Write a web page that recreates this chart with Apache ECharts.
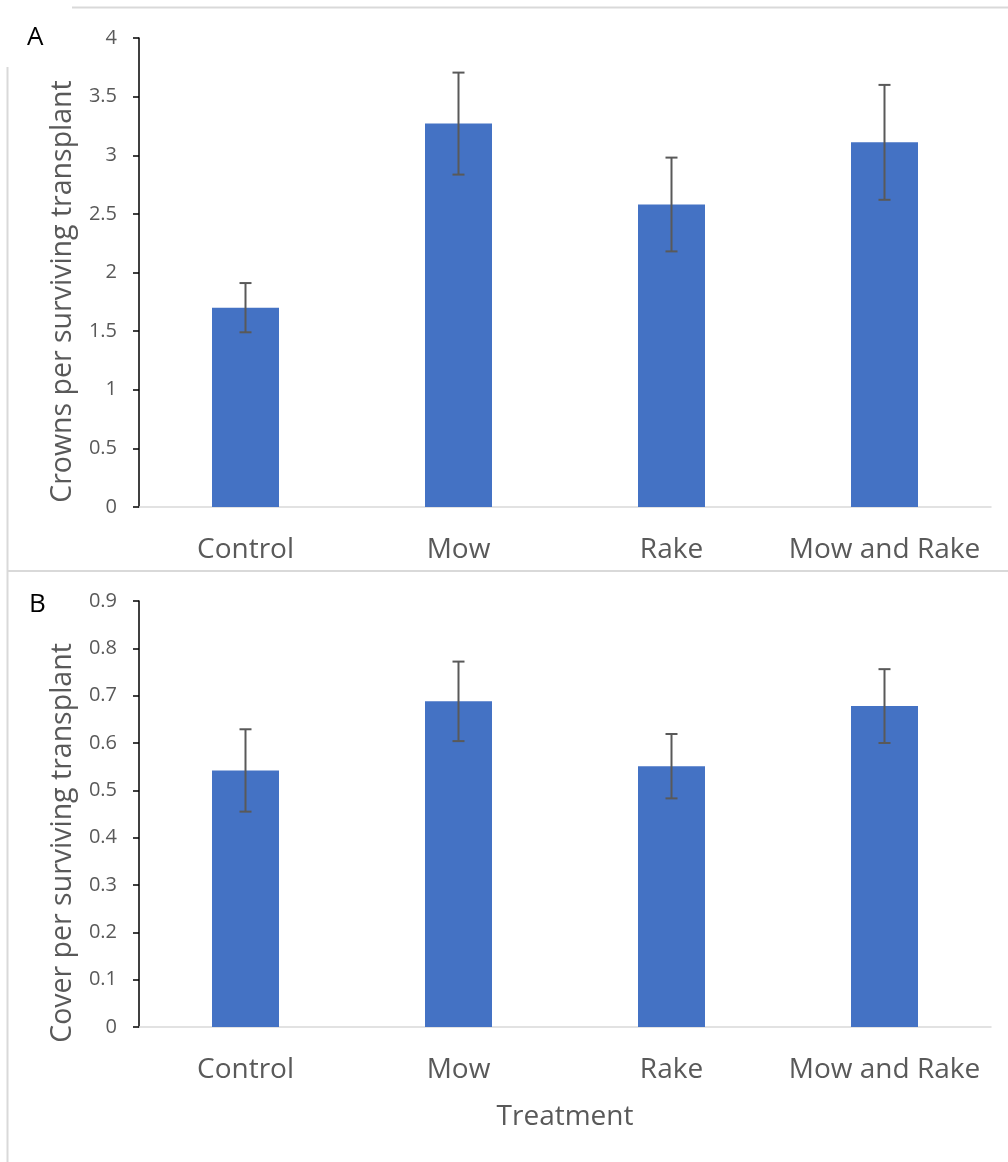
<!DOCTYPE html>
<html>
<head>
<meta charset="utf-8">
<script src="https://cdn.jsdelivr.net/npm/echarts@6/dist/echarts.min.js"></script>
<style>
html,body{margin:0;padding:0;background:#fff;}
#chart{width:1008px;height:1162px;}
</style>
</head>
<body>
<div id="chart"></div>
<script>
const categories = ['Control', 'Mow', 'Rake', 'Mow and Rake'];
const crowns = [1.70, 3.27, 2.58, 3.11];
const crownsErr = [0.21, 0.435, 0.40, 0.49];
const cover = [0.542, 0.688, 0.551, 0.678];
const coverErr = [0.087, 0.084, 0.068, 0.078];
const crownsTicks = { min: 0, max: 4, interval: 0.5 };
const coverTicks = { min: 0, max: 0.9, interval: 0.1 };

const FONT = '"Open Sans", "Noto Sans", sans-serif';
const BAR = '#4472C4';
const TXT = '#595959';

function errData(vals, errs) {
  return vals.map((v, i) => [i, v - errs[i], v + errs[i]]);
}
function errRender(params, api) {
  const x = api.value(0);
  const lo = api.coord([x, api.value(1)]);
  const hi = api.coord([x, api.value(2)]);
  const w = 6;
  const style = { stroke: TXT, lineWidth: 2 };
  return {
    type: 'group',
    children: [
      { type: 'line', shape: { x1: hi[0], y1: hi[1], x2: lo[0], y2: lo[1] }, style },
      { type: 'line', shape: { x1: hi[0] - w, y1: hi[1], x2: hi[0] + w, y2: hi[1] }, style },
      { type: 'line', shape: { x1: lo[0] - w, y1: lo[1], x2: lo[0] + w, y2: lo[1] }, style }
    ]
  };
}
function xAx(idx, name) {
  return {
    type: 'category', gridIndex: idx, data: categories,
    axisLine: { lineStyle: { color: '#d9d9d9', width: 1.5 } },
    axisTick: { show: false },
    axisLabel: { color: TXT, fontFamily: FONT, fontSize: 28, margin: 29, interval: 0 },
    name: name, nameLocation: 'middle', nameGap: 76,
    nameTextStyle: { color: TXT, fontFamily: FONT, fontSize: 28 }
  };
}
function yAx(idx, ticks, name, shift) {
  return {
    type: 'value', gridIndex: idx, min: ticks.min, max: ticks.max, interval: ticks.interval,
    splitLine: { show: false },
    axisLine: { show: true, lineStyle: { color: '#000', width: 1.5 } },
    axisTick: { show: true, length: 6, lineStyle: { color: '#000', width: 1.5 } },
    axisLabel: { color: TXT, fontFamily: FONT, fontSize: 20, margin: 22 },
    name: name, nameLocation: 'middle', nameGap: 62,
    nameTextStyle: { color: TXT, fontFamily: FONT, fontSize: 28.5, padding: [0, shift, 0, 0] }
  };
}

const chart = echarts.init(document.getElementById('chart'), null, { renderer: 'canvas' });
chart.setOption({
  backgroundColor: '#fff',
  animation: false,
  grid: [
    { left: 139, right: 17, top: 38, height: 469 },
    { left: 139, right: 17, top: 601, height: 426 }
  ],
  xAxis: [xAx(0, ''), xAx(1, 'Treatment')],
  yAxis: [yAx(0, crownsTicks, 'Crowns per surviving transplant', 38), yAx(1, coverTicks, 'Cover per surviving transplant', 58)],
  graphic: [
    { type: 'line', shape: { x1: 72, y1: 7.5, x2: 1008, y2: 7.5 }, style: { stroke: '#d9d9d9', lineWidth: 2 } },
    { type: 'line', shape: { x1: 7.5, y1: 67, x2: 7.5, y2: 1162 }, style: { stroke: '#d9d9d9', lineWidth: 2 } },
    { type: 'line', shape: { x1: 7, y1: 571, x2: 1008, y2: 571 }, style: { stroke: '#d9d9d9', lineWidth: 2 } },
    { type: 'text', left: 27, top: 25, style: { text: 'A', fill: '#000', font: '26px ' + FONT } },
    { type: 'text', left: 29, top: 592, style: { text: 'B', fill: '#000', font: '26px ' + FONT } }
  ],
  series: [
    { type: 'bar', xAxisIndex: 0, yAxisIndex: 0, data: crowns, barWidth: 67, itemStyle: { color: BAR } },
    { type: 'custom', xAxisIndex: 0, yAxisIndex: 0, data: errData(crowns, crownsErr), renderItem: errRender, z: 5 },
    { type: 'bar', xAxisIndex: 1, yAxisIndex: 1, data: cover, barWidth: 67, itemStyle: { color: BAR } },
    { type: 'custom', xAxisIndex: 1, yAxisIndex: 1, data: errData(cover, coverErr), renderItem: errRender, z: 5 }
  ]
});
</script>
</body>
</html>
